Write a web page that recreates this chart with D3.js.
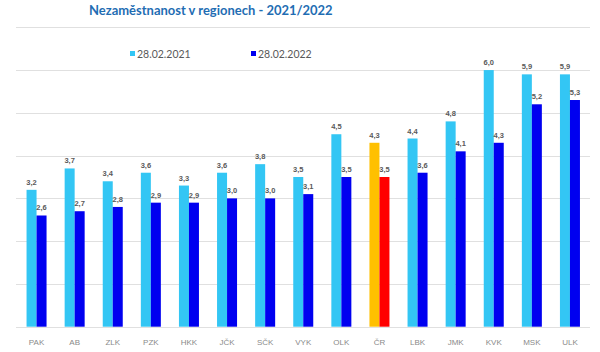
<!DOCTYPE html>
<html>
<head>
<meta charset="utf-8">
<script src="https://cdn.jsdelivr.net/npm/d3@7"></script>
<style>
  body { margin: 0; background: #fff; }
  svg { display: block; }
</style>
</head>
<body>
<svg id="chart" width="600" height="352"></svg>
<script>
// data
const regions = ['PAK', 'AB', 'ZLK', 'PZK', 'HKK', 'JČK', 'SČK', 'VYK', 'OLK', 'ČR', 'LBK', 'JMK', 'KVK', 'MSK', 'ULK'];
const series = ['28.02.2021', '28.02.2022'];
const values2021 = [3.2, 3.7, 3.4, 3.6, 3.3, 3.6, 3.8, 3.5, 4.5, 4.3, 4.4, 4.8, 6.0, 5.9, 5.9];
const values2022 = [2.6, 2.7, 2.8, 2.9, 2.9, 3.0, 3.0, 3.1, 3.5, 3.5, 3.6, 4.1, 4.3, 5.2, 5.3];
const yTicks = [0, 1, 2, 3, 4, 5, 6, 7];

const colors = { '28.02.2021': '#33c6f4', '28.02.2022': '#0000f0' };
const highlight = { '28.02.2021': '#ffc000', '28.02.2022': '#ff0000' };

const svg = d3.select('#chart');

const x = d3.scaleBand().domain(regions).range([17.5, 589]).paddingInner(0.475).paddingOuter(0.2375);
const xSub = d3.scaleBand().domain(series).range([0, x.bandwidth()]);
const y = d3.scaleLinear().domain([0, 7]).range([326.7, 27.3]);

// gridlines
svg.append('g')
  .selectAll('line')
  .data(yTicks)
  .join('line')
  .attr('x1', 16).attr('x2', 590)
  .attr('y1', d => Math.round(y(d)) + 0.5)
  .attr('y2', d => Math.round(y(d)) + 0.5)
  .attr('stroke', '#e0e0e0')
  .attr('stroke-width', 1);

// title
const title = svg.append('text')
  .attr('x', 89).attr('y', 15)
  .attr('font-family', 'Lato, "Noto Sans", sans-serif')
  .attr('font-weight', 'bold')
  .attr('font-size', 13)
  .attr('fill', '#1f6db3')
  .text('Nezaměstnanost v regionech - 2021/2022');
const tw = title.node().getComputedTextLength();
title.attr('font-size', 13 * 244 / tw);

// legend
const legend = svg.append('g')
  .selectAll('g')
  .data(series)
  .join('g')
  .attr('transform', (d, i) => `translate(${[130, 251][i]},0)`);
legend.append('rect')
  .attr('x', 0).attr('y', 51).attr('width', 5).attr('height', 5)
  .attr('fill', d => colors[d]);
legend.append('text')
  .attr('x', 7).attr('y', 57.5)
  .attr('font-family', 'Lato, "Noto Sans", sans-serif')
  .attr('font-size', 10.5)
  .attr('fill', '#595959')
  .text(d => d);

// bars
const rows = regions.map((r, i) => ({ region: r, vals: [values2021[i], values2022[i]] }));
const group = svg.append('g')
  .selectAll('g')
  .data(rows)
  .join('g')
  .attr('transform', d => `translate(${x(d.region)},0)`);

group.selectAll('rect')
  .data(d => series.map((s, j) => ({ region: d.region, key: s, value: d.vals[j] })))
  .join('rect')
  .attr('x', d => xSub(d.key))
  .attr('y', d => y(d.value))
  .attr('width', xSub.bandwidth())
  .attr('height', d => y(0) - y(d.value))
  .attr('fill', d => d.region === 'ČR' ? highlight[d.key] : colors[d.key]);

group.selectAll('text')
  .data(d => series.map((s, j) => ({ region: d.region, key: s, value: d.vals[j] })))
  .join('text')
  .attr('x', d => xSub(d.key) + xSub.bandwidth() / 2)
  .attr('y', d => y(d.value) - 5)
  .attr('text-anchor', 'middle')
  .attr('font-family', 'Arial, "Liberation Sans", sans-serif')
  .attr('font-weight', 'bold')
  .attr('font-size', 7.5)
  .attr('fill', '#595959')
  .text(d => d3.format('.1f')(d.value).replace('.', ','));

// x axis labels
const xAxis = svg.append('g')
  .attr('transform', `translate(0,${y(0) + 13})`)
  .call(d3.axisBottom(x).tickSize(0).tickPadding(0));
xAxis.select('.domain').remove();
xAxis.selectAll('text')
  .attr('font-family', 'Arial, "Liberation Sans", sans-serif')
  .attr('font-size', 8)
  .attr('fill', '#8a8a8a');
</script>
</body>
</html>
